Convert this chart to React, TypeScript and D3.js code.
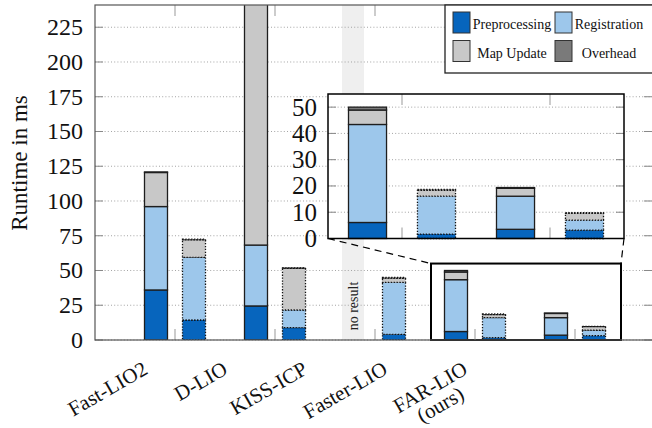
import React, { useEffect, useRef } from "react";
import * as d3 from "d3";

const categories = ["Fast-LIO2", "D-LIO", "KISS-ICP", "Faster-LIO", "FAR-LIO\n(ours)"];
const components = ["Preprocessing", "Registration", "Map Update", "Overhead"];
const colors = ["#0765BD", "#9DC7EB", "#C8C8C8", "#7A7A7A"];

// solid bars (left of each pair), null = no result
const preprocessingA = [36, 24.5, null, 6.1, 3.5];
const registrationA = [60, 43.8, null, 37.3, 12.6];
const mapUpdateA = [24.5, 180, null, 5.5, 3.0];
const overheadA = [0.4, 0.4, null, 1.1, 0.3];

// dotted bars (right of each pair)
const preprocessingB = [14.4, 8.9, 4.1, 1.7, 3.2];
const registrationB = [45.1, 12.7, 37.4, 14.4, 3.8];
const mapUpdateB = [12.5, 30, 2.9, 2.2, 2.6];
const overheadB = [0.5, 0.3, 0.6, 0.4, 0.2];

const mainTicks = [0, 25, 50, 75, 100, 125, 150, 175, 200, 225];
const insetTicks = [0, 10, 20, 30, 40, 50];

const W = 652;
const H = 428;
const font = "'Liberation Serif', 'Times New Roman', serif";

const App = () => {
  const svgRef = useRef(null);

  useEffect(() => {
    const svg = d3.select(svgRef.current);
    svg.selectAll("*").remove();

    const plot = { left: 95, right: 653, top: 5, bottom: 340 };
    const x = d3.scaleLinear().domain([-0.8, 4.78]).range([plot.left, plot.right]);
    const y = d3.scaleLinear().domain([0, 241]).range([plot.bottom, plot.top]);

    // build the bar table
    const bars = [];
    categories.forEach((c, i) => {
      if (preprocessingA[i] != null) {
        bars.push({
          idx: i, side: -1, dotted: false,
          Preprocessing: preprocessingA[i], Registration: registrationA[i],
          "Map Update": mapUpdateA[i], Overhead: overheadA[i],
        });
      }
      bars.push({
        idx: i, side: 1, dotted: true,
        Preprocessing: preprocessingB[i], Registration: registrationB[i],
        "Map Update": mapUpdateB[i], Overhead: overheadB[i],
      });
    });
    const series = d3.stack().keys(components)(bars);

    const defs = svg.append("defs");
    defs.append("clipPath").attr("id", "mainClip")
      .append("rect")
      .attr("x", plot.left).attr("y", plot.top)
      .attr("width", plot.right - plot.left).attr("height", plot.bottom - plot.top);

    // no result band
    svg.append("rect")
      .attr("x", x(2 - 0.33)).attr("y", plot.top)
      .attr("width", x(2 - 0.11) - x(2 - 0.33))
      .attr("height", plot.bottom - plot.top)
      .attr("fill", "#EFEFEF");

    // gridlines + y ticks
    mainTicks.forEach((t) => {
      svg.append("line")
        .attr("x1", plot.left).attr("x2", plot.right)
        .attr("y1", y(t)).attr("y2", y(t))
        .attr("stroke", "#9a9a9a").attr("stroke-width", 0.9)
        .attr("stroke-dasharray", "1,2.2");
      svg.append("line").attr("x1", plot.left).attr("x2", plot.left + 8)
        .attr("y1", y(t)).attr("y2", y(t)).attr("stroke", "#888");
      svg.append("line").attr("x1", plot.right - 9).attr("x2", plot.right)
        .attr("y1", y(t)).attr("y2", y(t)).attr("stroke", "#888");
      svg.append("text")
        .attr("x", 83).attr("y", y(t) + 8)
        .attr("text-anchor", "end")
        .style("font-family", font).style("font-size", "24px")
        .attr("fill", "#111")
        .text(t);
    });

    // zoom box (white area)
    const zx0 = x(2.56), zx1 = x(4.46), zy0 = y(55), zy1 = y(0);
    svg.append("rect")
      .attr("x", zx0).attr("y", zy0)
      .attr("width", zx1 - zx0).attr("height", zy1 - zy0)
      .attr("fill", "white");

    const drawBars = (g, xs, ys, offset, bw, filter) => {
      series.forEach((s, k) => {
        g.selectAll(null)
          .data(s.filter((d) => filter(d.data)))
          .enter()
          .append("rect")
          .attr("x", (d) => xs(d.data.idx + d.data.side * offset - bw / 2))
          .attr("width", (d) => xs(d.data.idx + bw / 2) - xs(d.data.idx - bw / 2))
          .attr("y", (d) => ys(d[1]))
          .attr("height", (d) => ys(d[0]) - ys(d[1]))
          .attr("fill", colors[k])
          .attr("stroke", (d) => (d.data.dotted ? "#111" : "#1e1e1e"))
          .attr("stroke-width", 1.3)
          .attr("stroke-dasharray", (d) => (d.data.dotted ? "1.3,1.6" : null));
      });
    };

    const mainBars = svg.append("g").attr("clip-path", "url(#mainClip)");
    drawBars(mainBars, x, y, 0.19, 0.23, () => true);

    // zoom box outline
    svg.append("rect")
      .attr("x", zx0).attr("y", zy0)
      .attr("width", zx1 - zx0).attr("height", zy1 - zy0)
      .attr("fill", "none").attr("stroke", "#000").attr("stroke-width", 2);

    // x ticks
    categories.forEach((c, i) => {
      svg.append("line").attr("x1", x(i)).attr("x2", x(i))
        .attr("y1", plot.bottom).attr("y2", plot.bottom - 11).attr("stroke", "#999");
      svg.append("line").attr("x1", x(i)).attr("x2", x(i))
        .attr("y1", plot.top).attr("y2", plot.top + 11).attr("stroke", "#999");
    });

    // frame
    svg.append("rect")
      .attr("x", plot.left).attr("y", plot.top)
      .attr("width", plot.right - plot.left).attr("height", plot.bottom - plot.top)
      .attr("fill", "none").attr("stroke", "#555").attr("stroke-width", 1.2);

    // no result label
    svg.append("text")
      .attr("transform", `translate(${x(2 - 0.22) + 5},306) rotate(-90)`)
      .attr("text-anchor", "middle")
      .style("font-family", font).style("font-size", "14px")
      .attr("fill", "#222")
      .text("no result");

    // x labels (rotated, multi-line centered)
    const labelX = d3.scaleLinear().domain([0, 4]).range([149, 469]);
    categories.forEach((c, i) => {
      const g = svg.append("g")
        .attr("transform", `translate(${labelX(i)},373) rotate(-30)`);
      const lines = c.split("\n");
      const texts = lines.map((l, j) =>
        g.append("text")
          .attr("y", j * 20)
          .attr("text-anchor", "middle")
          .style("font-family", font).style("font-size", "21px")
          .attr("fill", "#111")
          .text(l)
      );
      const w = d3.max(texts, (t) => t.node().getComputedTextLength());
      texts.forEach((t) => t.attr("x", -w / 2));
    });

    // y label
    svg.append("text")
      .attr("transform", "translate(27,163) rotate(-90)")
      .attr("text-anchor", "middle")
      .style("font-family", font).style("font-size", "23px")
      .attr("fill", "#111")
      .text("Runtime in ms");

    // inset
    const inset = { left: 328, right: 624, top: 94, bottom: 238.5 };
    const ix = d3.scaleLinear().domain([2.5, 4.5]).range([inset.left, inset.right]);
    const iy = d3.scaleLinear().domain([0, 55]).range([inset.bottom, inset.top]);

    // connector lines
    svg.append("line")
      .attr("x1", inset.left).attr("y1", inset.bottom)
      .attr("x2", zx0).attr("y2", zy0)
      .attr("stroke", "#000").attr("stroke-width", 1.2).attr("stroke-dasharray", "7,5");
    svg.append("line")
      .attr("x1", inset.right).attr("y1", inset.bottom)
      .attr("x2", zx1).attr("y2", zy0)
      .attr("stroke", "#000").attr("stroke-width", 1.2).attr("stroke-dasharray", "7,5");

    svg.append("rect")
      .attr("x", inset.left).attr("y", inset.top)
      .attr("width", inset.right - inset.left).attr("height", inset.bottom - inset.top)
      .attr("fill", "white");

    insetTicks.forEach((t) => {
      svg.append("line")
        .attr("x1", inset.left).attr("x2", inset.right)
        .attr("y1", iy(t)).attr("y2", iy(t))
        .attr("stroke", "#9a9a9a").attr("stroke-width", 0.9)
        .attr("stroke-dasharray", "1,2.2");
      svg.append("line").attr("x1", inset.left).attr("x2", inset.left + 8)
        .attr("y1", iy(t)).attr("y2", iy(t)).attr("stroke", "#888");
      svg.append("line").attr("x1", inset.right - 8).attr("x2", inset.right)
        .attr("y1", iy(t)).attr("y2", iy(t)).attr("stroke", "#888");
      svg.append("text")
        .attr("x", inset.left - 11).attr("y", iy(t) + 8.5)
        .attr("text-anchor", "end")
        .style("font-family", font).style("font-size", "25px")
        .attr("fill", "#111")
        .text(t);
    });
    [3, 4].forEach((i) => {
      svg.append("line").attr("x1", ix(i)).attr("x2", ix(i))
        .attr("y1", inset.bottom).attr("y2", inset.bottom - 11).attr("stroke", "#999");
      svg.append("line").attr("x1", ix(i)).attr("x2", ix(i))
        .attr("y1", inset.top).attr("y2", inset.top + 11).attr("stroke", "#999");
    });

    drawBars(svg.append("g"), ix, iy, 0.233, 0.257, (d) => d.idx >= 3);

    svg.append("rect")
      .attr("x", inset.left).attr("y", inset.top)
      .attr("width", inset.right - inset.left).attr("height", inset.bottom - inset.top)
      .attr("fill", "none").attr("stroke", "#000").attr("stroke-width", 1.5);

    // legend
    const legend = svg.append("g");
    legend.append("rect")
      .attr("x", 445).attr("y", 5).attr("width", 220).attr("height", 68)
      .attr("fill", "white").attr("stroke", "#222").attr("stroke-width", 1.3);
    const legCols = [453, 555];
    const legTextX = [512, 609];
    components.forEach((k, i) => {
      const col = i % 2;
      const row = Math.floor(i / 2);
      legend.append("rect")
        .attr("x", legCols[col]).attr("y", 12 + row * 28.5)
        .attr("width", 17).attr("height", 21)
        .attr("fill", colors[i]).attr("stroke", "#333").attr("stroke-width", 1);
      legend.append("text")
        .attr("x", legTextX[col]).attr("y", 29 + row * 28.5)
        .attr("text-anchor", "middle")
        .style("font-family", font).style("font-size", "14px")
        .attr("fill", "#111")
        .text(k);
    });
  }, []);

  return (
    <svg
      ref={svgRef}
      width={W}
      height={H}
      style={{ position: "absolute", left: 0, top: 0, background: "white" }}
    ></svg>
  );
};

export default App;
